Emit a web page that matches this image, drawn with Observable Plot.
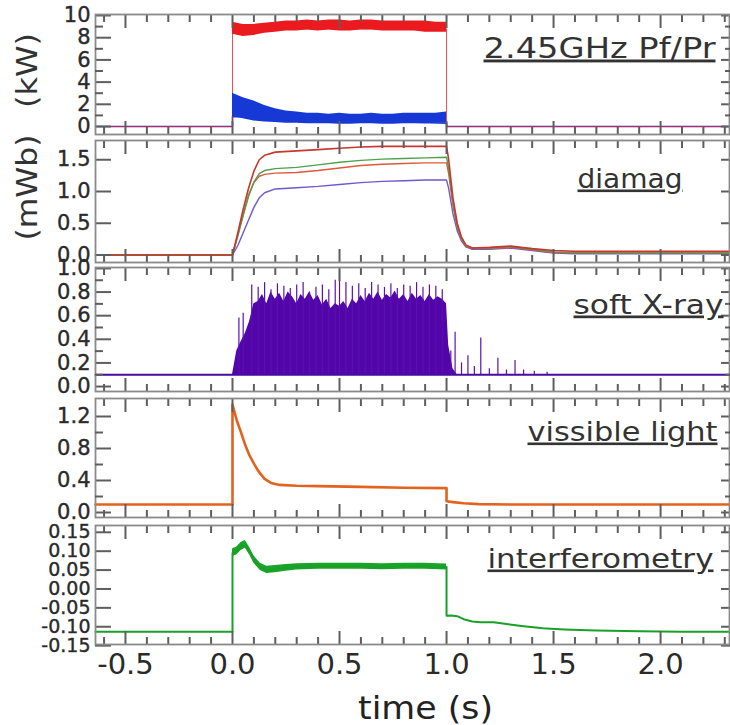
<!DOCTYPE html>
<html><head><meta charset="utf-8">
<script src="https://cdn.jsdelivr.net/npm/d3@7"></script>
<script src="https://cdn.jsdelivr.net/npm/@observablehq/plot@0.6"></script>
<style>
body{margin:0;background:#fff;}
#chart{position:relative;width:730px;height:725px;overflow:hidden;background:#fff;}
#chart svg{position:absolute;left:0;overflow:visible;}
</style></head><body><div id="chart"></div>
<script>
// ---------- shared x axis ----------
const xDomain = [-0.64, 2.322];
const xMajorTicks = [-0.5, 0, 0.5, 1, 1.5, 2];
const xTickLabels = ["-0.5", "0.0", "0.5", "1.0", "1.5", "2.0"];
const xMinorTicks = [-0.6,-0.4,-0.3,-0.2,-0.1,0.1,0.2,0.3,0.4,0.6,0.7,0.8,0.9,1.1,1.2,1.3,1.4,1.6,1.7,1.8,1.9,2.1,2.2,2.3];
const xTitle = "time (s)";

// ---------- panel 1 : 2.45GHz Pf/Pr (kW) ----------
const pT   = [0,0.05,0.1,0.15,0.2,0.25,0.3,0.35,0.4,0.45,0.5,0.55,0.6,0.65,0.7,0.75,0.8,0.85,0.9,0.95,1.0];
const pfLo = [8.3,8.1,8.2,8.4,8.5,8.6,8.6,8.7,8.6,8.7,8.6,8.6,8.7,8.7,8.6,8.6,8.6,8.6,8.5,8.5,8.5];
const pfHi = [9.4,9.2,9.2,9.3,9.4,9.5,9.5,9.6,9.5,9.6,9.6,9.5,9.6,9.6,9.5,9.5,9.5,9.5,9.5,9.4,9.4];
const prLo = [0.9,0.7,0.5,0.4,0.35,0.3,0.3,0.25,0.25,0.25,0.2,0.2,0.25,0.25,0.2,0.2,0.25,0.25,0.25,0.3,0.3];
const prHi = [3.0,2.6,2.3,1.9,1.6,1.4,1.3,1.2,1.2,1.1,1.2,1.1,1.1,1.2,1.1,1.1,1.2,1.2,1.2,1.2,1.3];
const pStepT  = [-0.64, 0, 0, 1, 1, 2.322];
const pfStepV = [0, 0, 8.8, 8.8, 0, 0];
const prStepV = [0, 0, 0.9, 0.3, 0, 0];

// ---------- panel 2 : diamag (mWb) ----------
const dT      = [-0.64,0,0.025,0.05,0.075,0.1,0.125,0.15,0.2,0.3,0.4,0.5,0.6,0.7,0.8,0.9,1.0,1.01,1.03,1.05,1.07,1.09,1.12,1.2,1.3,1.4,1.5,1.6,1.8,2.0,2.322];
const dRed    = [0,0,0.35,0.72,1.05,1.32,1.50,1.57,1.62,1.64,1.66,1.68,1.70,1.71,1.71,1.71,1.71,1.50,0.90,0.50,0.28,0.16,0.11,0.12,0.14,0.10,0.07,0.06,0.06,0.06,0.06];
const dGreen  = [0,0,0.30,0.62,0.92,1.15,1.28,1.33,1.36,1.38,1.42,1.46,1.49,1.51,1.52,1.53,1.54,1.36,0.82,0.46,0.26,0.15,0.11,0.11,0.13,0.09,0.05,0.04,0.04,0.04,0.04];
const dOrange = [0,0,0.32,0.64,0.95,1.14,1.24,1.27,1.29,1.30,1.33,1.37,1.41,1.43,1.44,1.45,1.45,1.28,0.78,0.44,0.25,0.14,0.10,0.10,0.12,0.08,0.04,0.03,0.03,0.03,0.03];
const dPurple = [0,0,0.15,0.35,0.55,0.75,0.90,0.98,1.04,1.06,1.08,1.11,1.14,1.16,1.17,1.18,1.18,1.05,0.65,0.38,0.22,0.13,0.09,0.09,0.11,0.07,0.03,0.02,0.02,0.02,0.02];

// ---------- panel 3 : soft X-ray ----------
const sxBaseT = [-0.64, 2.322];
const sxBaseV = [0.1, 0.1];
const sxT   = [0,0.02,0.04,0.06,0.08,0.1,0.12,0.14,0.16,0.18,0.2,0.22,0.24,0.26,0.28,0.3,0.32,0.34,0.36,0.38,0.4,0.42,0.44,0.46,0.48,0.5,0.52,0.54,0.56,0.58,0.6,0.62,0.64,0.66,0.68,0.7,0.72,0.74,0.76,0.78,0.8,0.82,0.84,0.86,0.88,0.9,0.92,0.94,0.96,0.98,1.0,1.01,1.03,1.05];
const sxTop = [0.10,0.30,0.38,0.45,0.55,0.70,0.72,0.78,0.70,0.80,0.74,0.79,0.72,0.80,0.76,0.70,0.78,0.74,0.80,0.73,0.77,0.69,0.74,0.66,0.70,0.68,0.72,0.66,0.74,0.70,0.77,0.72,0.79,0.74,0.80,0.73,0.78,0.75,0.81,0.74,0.78,0.72,0.79,0.74,0.77,0.72,0.78,0.73,0.76,0.74,0.70,0.35,0.15,0.10];
const spikeT = [0.03,0.05,0.09,0.12,0.15,0.18,0.21,0.24,0.27,0.30,0.33,0.36,0.39,0.42,0.45,0.48,0.50,0.53,0.56,0.59,0.62,0.65,0.68,0.71,0.74,0.77,0.80,0.83,0.86,0.89,0.92,0.95,0.98,1.02,1.04,1.07,1.10,1.13,1.16,1.20,1.24,1.28,1.32,1.36,1.41,1.47];
const spikeV = [0.58,0.62,0.86,0.84,0.88,0.82,0.87,0.85,0.83,0.86,0.88,0.80,0.84,0.86,0.82,0.90,0.97,0.88,0.85,0.87,0.83,0.88,0.86,0.84,0.87,0.83,0.86,0.85,0.88,0.84,0.86,0.85,0.82,0.30,0.46,0.20,0.26,0.17,0.41,0.15,0.24,0.14,0.22,0.14,0.13,0.12];

// ---------- panel 4 : vissible light ----------
const vT = [-0.64,0,0,0.02,0.04,0.06,0.08,0.1,0.12,0.15,0.18,0.22,0.3,0.4,0.6,0.8,1.0,1.0,1.03,1.08,1.15,1.3,2.322];
const vV = [0.10,0.10,1.35,1.15,1.00,0.84,0.71,0.61,0.52,0.42,0.37,0.345,0.335,0.33,0.32,0.31,0.305,0.14,0.13,0.115,0.105,0.10,0.10];

// ---------- panel 5 : interferometry ----------
const iT = [-0.64,0,0,0.02,0.04,0.06,0.08,0.1,0.13,0.16,0.2,0.25,0.3,0.4,0.5,0.6,0.7,0.8,0.9,1.0,1.0,1.02,1.05,1.08,1.12,1.16,1.22,1.28,1.35,1.45,1.55,1.7,1.9,2.1,2.322];
const iV = [-0.113,-0.113,0.095,0.100,0.112,0.118,0.100,0.078,0.058,0.050,0.052,0.056,0.058,0.060,0.060,0.060,0.059,0.060,0.060,0.058,-0.071,-0.070,-0.072,-0.080,-0.086,-0.088,-0.088,-0.093,-0.098,-0.104,-0.107,-0.110,-0.112,-0.113,-0.113];
const iBandT = [0,0.02,0.04,0.06,0.08,0.1,0.13,0.16,0.2,0.25,0.3,0.4,0.5,0.6,0.7,0.8,0.9,1.0];
const iLo = [0.086,0.090,0.102,0.108,0.090,0.068,0.049,0.041,0.043,0.047,0.050,0.052,0.052,0.052,0.051,0.052,0.052,0.050];
const iHi = [0.106,0.111,0.123,0.128,0.110,0.088,0.068,0.060,0.062,0.065,0.067,0.068,0.068,0.068,0.067,0.068,0.068,0.066];

// ---------- texts ----------
const panelLabels = ["2.45GHz Pf/Pr", "diamag", "soft X-ray", "vissible light", "interferometry"];
const unitLabels = ["(kW)", "(mWb)"];

// ---------- layout (pixels, styling only) ----------
const gray = "#8a8a8a";
const tickGray = "#5e5e5e";
const textFit = {
  "2.45GHz Pf/Pr": {len: 232, underline: true},
  "diamag": {len: 105, underline: true},
  "soft X-ray": {len: 150, underline: true},
  "vissible light": {len: 190, underline: true},
  "interferometry": {len: 226, underline: true},
  "(kW)": {len: 75},
  "(mWb)": {len: 106},
  "time (s)": {len: 135}
};

const pts = (t, v) => t.map((x, i) => ({t: x, v: v[i]}));
const band = (t, lo, hi) => t.map((x, i) => ({t: x, lo: lo[i], hi: hi[i]}));

const panels = [
  {top: 14, h: 120, mt: 14, mb: 6, yDomain: [-0.72, 10.09],
   yMajor: [0,2,4,6,8,10], yLabels: ["0","2","4","6","8","10"], yMinor: [1,3,5,7,9], yFont: 21,
   label: panelLabels[0], lab: {dx: -14, dy: 43, fs: 29},
   unit: unitLabels[0], unitDy: -4,
   marks: [
     Plot.line(pts(pStepT, prStepV), {x: "t", y: "v", stroke: "#1a3ad8", strokeWidth: 1.6}),
     Plot.line(pts(pStepT, pfStepV), {x: "t", y: "v", stroke: "#e8202a", strokeWidth: 1, strokeOpacity: 0.8}),
     Plot.areaY(band(pT, pfLo, pfHi), {x: "t", y1: "lo", y2: "hi", fill: "#ea1a1f"}),
     Plot.areaY(band(pT, prLo, prHi), {x: "t", y1: "lo", y2: "hi", fill: "#1638d4"})
   ]},
  {top: 140, h: 122, mt: 6, mb: 6, yDomain: [-0.118, 1.803],
   yMajor: [0,0.5,1,1.5], yLabels: ["0.0","0.5","1.0","1.5"], yMinor: [], yFont: 21,
   label: panelLabels[1], lab: {dx: -47, dy: 47, fs: 26},
   unit: unitLabels[1], unitDy: -14,
   marks: [
     Plot.line(pts(dT, dPurple), {x: "t", y: "v", stroke: "#7057d0", strokeWidth: 1.4}),
     Plot.line(pts(dT, dOrange), {x: "t", y: "v", stroke: "#e0583a", strokeWidth: 1.4}),
     Plot.line(pts(dT, dGreen), {x: "t", y: "v", stroke: "#4ea04e", strokeWidth: 1.4}),
     Plot.line(pts(dT, dRed), {x: "t", y: "v", stroke: "#c8362e", strokeWidth: 1.6})
   ]},
  {top: 267, h: 124, mt: 6, mb: 6, yDomain: [-0.042, 1.008],
   yMajor: [0,0.2,0.4,0.6,0.8,1.0], yLabels: ["0.0","0.2","0.4","0.6","0.8","1.0"], yMinor: [0.1,0.3,0.5,0.7,0.9], yFont: 21,
   label: panelLabels[2], lab: {dx: -6, dy: 46, fs: 27},
   marks: [
     Plot.areaY(pts(sxT, sxTop), {x: "t", y1: sxBaseV[0], y2: "v", fill: "#5206aa"}),
     Plot.ruleX(pts(spikeT, spikeV), {x: "t", y1: sxBaseV[0], y2: "v", stroke: "#5a10b0", strokeWidth: 1.2}),
     Plot.line(pts(sxBaseT, sxBaseV), {x: "t", y: "v", stroke: "#4a0aa0", strokeWidth: 2})
   ]},
  {top: 398, h: 119, mt: 6, mb: 6, yDomain: [-0.0625, 1.425],
   yMajor: [0,0.4,0.8,1.2], yLabels: ["0.0","0.4","0.8","1.2"], yMinor: [0.2,0.6,1.0], yFont: 21,
   label: panelLabels[3], lab: {dx: -12, dy: 42, fs: 26},
   marks: [
     Plot.line(pts(vT, vV), {x: "t", y: "v", stroke: "#e2621e", strokeWidth: 2.6})
   ]},
  {top: 525, h: 119, mt: 6, mb: 81, yDomain: [-0.147, 0.168],
   yMajor: [-0.15,-0.1,-0.05,0,0.05,0.1,0.15], yLabels: ["-0.15","-0.10","-0.05","0.00","0.05","0.10","0.15"], yMinor: [], yFont: 19,
   label: panelLabels[4], lab: {dx: -16, dy: 42, fs: 26},
   xAxis: true,
   marks: [
     Plot.areaY(band(iBandT, iLo, iHi), {x: "t", y1: "lo", y2: "hi", fill: "#1aa52a"}),
     Plot.line(pts(iT, iV), {x: "t", y: "v", stroke: "#18a028", strokeWidth: 2})
   ]}
];

const chart = document.getElementById("chart");

for (const p of panels) {
  const yMap = new Map(p.yMajor.map((v, i) => [v, p.yLabels[i]]));
  const xMap = new Map(xMajorTicks.map((v, i) => [v, xTickLabels[i]]));
  const tk = {stroke: tickGray, strokeWidth: 2, fill: "none", label: null};
  const marks = [
    ...p.marks,
    // inward ticks drawn by the library's own axis marks
    Plot.axisX(xMinorTicks, {anchor: "top", tickSize: -7, ...tk}),
    Plot.axisX(xMajorTicks, {anchor: "top", tickSize: -13, ...tk}),
    Plot.axisX(xMinorTicks, {anchor: "bottom", tickSize: -7, ...tk}),
    Plot.axisX(xMajorTicks, {anchor: "bottom", tickSize: -13, ...tk}),
    Plot.axisY(p.yMajor, {anchor: "left", tickSize: -16, ...tk}),
    Plot.axisY(p.yMajor, {anchor: "right", tickSize: -9, ...tk}),
    Plot.frame({stroke: gray, strokeWidth: 1.8}),
    Plot.axisY(p.yMajor, {anchor: "left", tickSize: 0, tickPadding: 5, tickFormat: d => yMap.get(d),
      fontSize: p.yFont, fill: "#2a2a2a", textStroke: "#3a3a3a", textStrokeWidth: 0.4, label: null}),
    Plot.text([p.label], {text: d => d, frameAnchor: "top-right", textAnchor: "end", lineAnchor: "bottom",
      dx: p.lab.dx, dy: p.lab.dy, fontSize: p.lab.fs, fill: "#333"})
  ];
  if (p.yMinor.length) {
    marks.push(Plot.axisY(p.yMinor, {anchor: "left", tickSize: -8, ...tk}));
    marks.push(Plot.axisY(p.yMinor, {anchor: "right", tickSize: -5, ...tk}));
  }
  if (p.unit) {
    marks.push(Plot.text([p.unit], {text: d => d, frameAnchor: "left", rotate: -90, textAnchor: "middle",
      lineAnchor: "middle", dx: -67, dy: p.unitDy, fontSize: 28, fill: "#333"}));
  }
  if (p.xAxis) {
    marks.push(Plot.axisX(xMajorTicks, {anchor: "bottom", tickSize: 0, tickPadding: 9, tickFormat: d => xMap.get(d),
      fontSize: 29, fill: "#2a2a2a", label: null}));
    marks.push(Plot.text([xTitle], {text: d => d, frameAnchor: "bottom", textAnchor: "middle", lineAnchor: "bottom",
      dx: 13, dy: 74, fontSize: 32, fill: "#222"}));
  }
  const svg = Plot.plot({
    width: 730, height: p.mt + p.h + p.mb,
    marginLeft: 95, marginRight: 1, marginTop: p.mt, marginBottom: p.mb,
    x: {domain: xDomain},
    y: {domain: p.yDomain},
    style: {fontFamily: "DejaVu Sans"},
    marks
  });
  svg.style.position = "absolute";
  svg.style.left = "0px";
  svg.style.top = (p.top - p.mt) + "px";
  svg.style.overflow = "visible";
  chart.appendChild(svg);
  svg.querySelectorAll("text").forEach(t => {
    const f = textFit[t.textContent];
    if (!f) return;
    t.setAttribute("textLength", f.len);
    t.setAttribute("lengthAdjust", "spacingAndGlyphs");
    if (f.underline) t.style.textDecoration = "underline";
  });
}
</script></body></html>
